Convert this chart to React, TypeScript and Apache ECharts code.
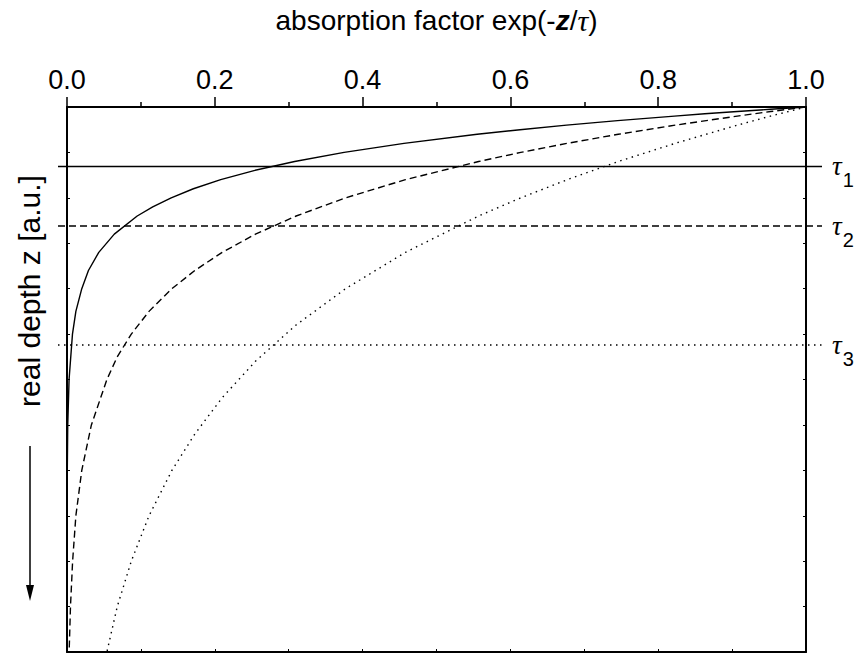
import React, { useEffect, useRef } from "react";
import * as echarts from "echarts";

// depth values (z, a.u.) and the absorption factor
const zSolid = [0, 0.05, 0.1, 0.15, 0.2, 0.3, 0.4, 0.5, 0.6, 0.8, 1.0, 1.2, 1.4, 1.6, 1.8, 2.0, 2.2, 2.4, 2.8, 3.2, 3.6, 4.0, 4.5, 5, 6, 7, 8, 10, 12];
const fSolid = [1, 0.952, 0.907, 0.863, 0.822, 0.745, 0.676, 0.613, 0.555, 0.456, 0.375, 0.308, 0.253, 0.208, 0.171, 0.141, 0.116, 0.095, 0.064, 0.043, 0.029, 0.02, 0.012, 0.0074, 0.0028, 0.001, 0.0004, 0.0001, 0];

const zDashed = [0, 0.1, 0.2, 0.4, 0.6, 0.8, 1.0, 1.2, 1.6, 2.0, 2.4, 2.8, 3.2, 3.6, 4.0, 4.5, 5.0, 5.5, 6.0, 7.0, 8.0, 9.0, 10, 11, 12];
const fDashed = [1, 0.952, 0.907, 0.823, 0.746, 0.677, 0.614, 0.557, 0.458, 0.377, 0.31, 0.255, 0.21, 0.173, 0.142, 0.111, 0.087, 0.068, 0.054, 0.033, 0.02, 0.012, 0.0076, 0.0047, 0.0029];

const zDotted = [0, 0.2, 0.4, 0.8, 1.2, 1.6, 2.0, 2.4, 3.2, 4.0, 4.8, 5.6, 6.4, 7.2, 8.0, 9.0, 10.0, 11.0, 12.0];
const fDotted = [1, 0.952, 0.907, 0.823, 0.746, 0.677, 0.614, 0.557, 0.458, 0.377, 0.31, 0.255, 0.21, 0.173, 0.142, 0.111, 0.087, 0.068, 0.054];

// characteristic depths tau_1..tau_3
const tauNames = ["1", "2", "3"];
const tauDepths = [1.31, 2.62, 5.24];
const tauStyles = ["solid", "dashed", "dotted"];

const xTicks = [0, 0.2, 0.4, 0.6, 0.8, 1.0];

const dashPattern: Record<string, any> = {
  solid: "solid",
  dashed: [7, 4],
  dotted: [1.5, 4.5],
};

export default function App() {
  const ref = useRef<HTMLDivElement>(null);
  useEffect(() => {
    if (!ref.current) return;
    const chart = echarts.init(ref.current, null, { renderer: "svg" });
    const font = "Liberation Sans, Arial, sans-serif";
    const curve = (z: number[], f: number[], type: string) => ({
      type: "line",
      xAxisIndex: 0,
      yAxisIndex: 0,
      data: z.map((d, i) => [f[i], d]),
      showSymbol: false,
      symbol: "none",
      lineStyle: { color: "#000", width: 1.4, type: dashPattern[type] },
      z: 3,
    });
    const tauSeries = {
      type: "custom",
      xAxisIndex: 1,
      yAxisIndex: 1,
      clip: false,
      silent: true,
      data: tauDepths.map((d, i) => [0, d, i]),
      encode: { x: 0, y: 1 },
      renderItem: (params: any, api: any) => {
        const z = api.value(1);
        const i = api.value(2);
        const p0 = api.coord([0, z]);
        const p1 = api.coord([1, z]);
        const dash = dashPattern[tauStyles[i]];
        return {
          type: "group",
          children: [
            {
              type: "line",
              shape: { x1: p0[0] - 9, y1: p0[1], x2: p1[0] + 16, y2: p1[1] },
              style: {
                stroke: "#000",
                lineWidth: 1.4,
                lineDash: dash === "solid" ? null : dash,
              },
            },
            {
              type: "text",
              x: p1[0] + 26,
              y: p1[1],
              style: {
                text: "{t|τ}{s|" + tauNames[i] + "}",
                align: "left",
                verticalAlign: "middle",
                rich: {
                  t: { fontSize: 27, fontFamily: "Liberation Serif, serif", fontStyle: "italic", fill: "#000" },
                  s: { fontSize: 20, fontFamily: font, fill: "#000", padding: [28, 0, 0, 1] },
                },
              },
            },
          ],
        };
      },
      z: 2,
    };
    const yCommon = {
      type: "value",
      inverse: true,
      min: 0,
      max: 12,
      interval: 1,
      axisLine: { show: true, onZero: false, lineStyle: { color: "#000", width: 2 } },
      axisTick: { show: true, inside: true, length: 3, lineStyle: { color: "#000", width: 1 } },
      axisLabel: { show: false },
      splitLine: { show: false },
    };
    chart.setOption({
      animation: false,
      backgroundColor: "#fff",
      grid: { left: 67, right: 50, top: 107, bottom: 5, containLabel: false },
      xAxis: [
        {
          type: "value",
          position: "top",
          min: 0,
          max: 1,
          interval: 0.2,
          name: "absorption factor exp(-{b|z}/{t|τ})",
          nameLocation: "middle",
          nameGap: 72,
          nameTextStyle: {
            fontSize: 28,
            fontFamily: font,
            color: "#000",
            rich: {
              b: { fontSize: 28, fontFamily: font, fontWeight: "bold", fontStyle: "italic", color: "#000" },
              t: { fontSize: 30, fontFamily: "Liberation Serif, serif", fontStyle: "italic", color: "#000" },
            },
          },
          axisLine: { show: true, onZero: false, lineStyle: { color: "#000", width: 2 } },
          axisTick: { show: true, inside: false, length: 10, lineStyle: { color: "#000", width: 1.5 } },
          minorTick: { show: true, splitNumber: 2, length: 5, lineStyle: { color: "#000", width: 1.5 } },
          axisLabel: {
            margin: 14,
            fontSize: 27,
            fontFamily: font,
            color: "#000",
            formatter: (v: number) => (xTicks.some((t) => Math.abs(t - v) < 1e-9) ? v.toFixed(1) : ""),
          },
          splitLine: { show: false },
        },
        {
          type: "value",
          position: "bottom",
          min: 0,
          max: 1,
          interval: 0.1,
          axisLine: { show: true, onZero: false, lineStyle: { color: "#000", width: 2 } },
          axisTick: { show: true, inside: true, length: 3, lineStyle: { color: "#000", width: 1 } },
          axisLabel: { show: false },
          splitLine: { show: false },
        },
      ],
      yAxis: [
        { ...yCommon, position: "left" },
        { ...yCommon, position: "right" },
      ],
      graphic: [
        {
          type: "text",
          x: 29,
          y: 291,
          rotation: Math.PI / 2,
          style: {
            text: "real depth z [a.u.]",
            fontSize: 30,
            fontFamily: font,
            fill: "#000",
            align: "center",
            verticalAlign: "middle",
          },
        },
        {
          type: "line",
          shape: { x1: 30, y1: 446, x2: 30, y2: 588 },
          style: { stroke: "#000", lineWidth: 1.5 },
        },
        {
          type: "polygon",
          shape: { points: [[26, 585], [34, 585], [30, 601]] },
          style: { fill: "#000" },
        },
      ],
      series: [
        curve(zSolid, fSolid, "solid"),
        curve(zDashed, fDashed, "dashed"),
        curve(zDotted, fDotted, "dotted"),
        tauSeries,
      ],
    });
    return () => chart.dispose();
  }, []);
  return <div ref={ref} style={{ width: 856, height: 657, position: "absolute", left: 0, top: 0 }} />;
}
